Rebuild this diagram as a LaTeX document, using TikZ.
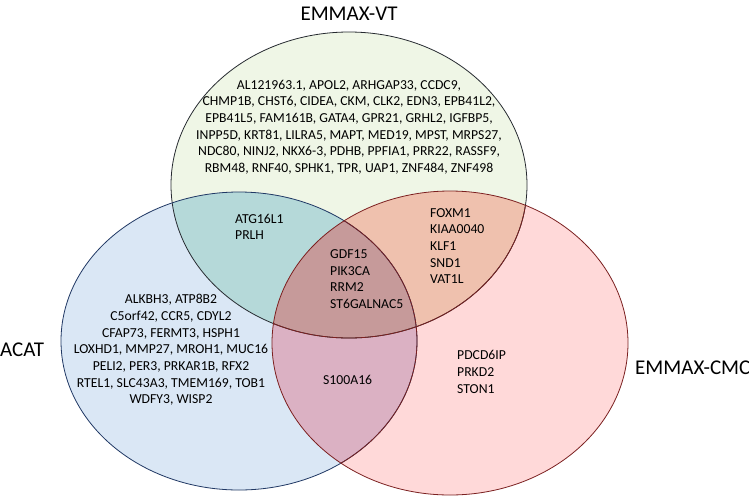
\documentclass[tikz,border=0pt]{standalone}
\usepackage{fontspec}
\setmainfont{Carlito}
\usepackage{tikz}
\usetikzlibrary{positioning}

\definecolor{vtcol}{HTML}{EFF6E6}
\definecolor{acatcol}{HTML}{DAE7F5}
\definecolor{cmccol}{HTML}{FFD9D9}
\definecolor{vtacat}{HTML}{B5D9D9}
\definecolor{vtcmc}{HTML}{EFC1AE}
\definecolor{acatcmc}{HTML}{DBB1C3}
\definecolor{allthree}{HTML}{C69A9A}
\definecolor{vtline}{HTML}{262A30}
\definecolor{acatline}{HTML}{203864}
\definecolor{cmcline}{HTML}{7B2020}

\def\vtset{(349,185) ellipse [x radius=178, y radius=153]}
\def\acatset{(239,341) ellipse [x radius=178, y radius=149]}
\def\cmcset{(450,343) ellipse [x radius=178, y radius=152]}

\begin{document}
\begin{tikzpicture}[x=1pt,y=-1pt,
  setname/.style={font=\fontsize{21}{24}\selectfont,inner sep=0pt},
  genes/.style={font=\fontsize{13.7}{16.7}\selectfont,inner sep=0pt},
  rim/.style={line width=0.8pt}]
\useasboundingbox (0,0) rectangle (749,496);

% fills of the three sets
\fill[vtcol] \vtset;
\fill[acatcol] \acatset;
\fill[cmccol] \cmcset;
% pairwise overlaps
\begin{scope}
  \clip \vtset;
  \fill[vtacat] \acatset;
  \fill[vtcmc] \cmcset;
\end{scope}
\begin{scope}
  \clip \acatset;
  \fill[acatcmc] \cmcset;
\end{scope}
% centre
\begin{scope}
  \clip \vtset;
  \clip \acatset;
  \fill[allthree] \cmcset;
\end{scope}

% outlines
\draw[rim,vtline] \vtset;
\draw[rim,acatline] \acatset;
\begin{scope}
  \clip \cmcset;
  \draw[rim,cmcline] \vtset;
  \draw[rim,cmcline] \acatset;
\end{scope}
\draw[rim,cmcline] \cmcset;

% set names
\node[setname] (vt) at (349,14) {EMMAX-VT};
\node[setname,anchor=west] (acat) at (0,350) {ACAT};
\node[setname,anchor=west] (cmc) at (635,368) {EMMAX-CMC};

% gene lists
\node[genes,align=center] (vtonly) at (349,127)
  {AL121963.1, APOL2, ARHGAP33, CCDC9,\\
   CHMP1B, CHST6, CIDEA, CKM, CLK2, EDN3, EPB41L2,\\
   EPB41L5, FAM161B, GATA4, GPR21, GRHL2, IGFBP5,\\
   INPP5D, KRT81, LILRA5, MAPT, MED19, MPST, MRPS27,\\
   NDC80, NINJ2, NKX6-3, PDHB, PPFIA1, PRR22, RASSF9,\\
   RBM48, RNF40, SPHK1, TPR, UAP1, ZNF484, ZNF498};
\node[genes,align=left,anchor=west] (vtacatg) at (235,227)
  {ATG16L1\\PRLH};
\node[genes,align=left,anchor=west] (vtcmcg) at (430,246)
  {FOXM1\\KIAA0040\\KLF1\\SND1\\VAT1L};
\node[genes,align=left,anchor=west] (allg) at (330,279)
  {GDF15\\PIK3CA\\RRM2\\ST6GALNAC5};
\node[genes,align=center] (acatonly) at (171,350)
  {ALKBH3, ATP8B2\\
   C5orf42, CCR5, CDYL2\\
   CFAP73, FERMT3, HSPH1\\
   LOXHD1, MMP27, MROH1, MUC16\\
   PELI2, PER3, PRKAR1B, RFX2\\
   RTEL1, SLC43A3, TMEM169, TOB1\\
   WDFY3, WISP2};
\node[genes,anchor=west] (acatcmcg) at (323,380) {S100A16};
\node[genes,align=left,anchor=west] (cmconly) at (457,372)
  {PDCD6IP\\PRKD2\\STON1};
\end{tikzpicture}
\end{document}
